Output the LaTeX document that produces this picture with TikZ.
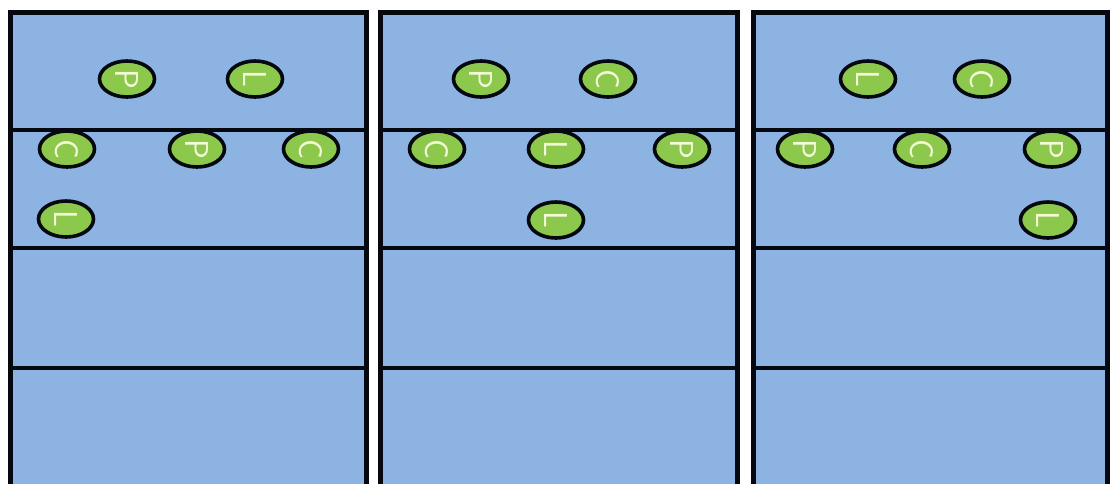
\documentclass[tikz,border=0pt]{standalone}
\usetikzlibrary{shapes.geometric}
\definecolor{paneblue}{HTML}{8DB3E2}
\definecolor{tokgreen}{HTML}{8CC84B}
\definecolor{tokletter}{HTML}{F4FAD6}
\definecolor{edgeblack}{HTML}{05080F}
\begin{document}
\begin{tikzpicture}[x=1pt,y=-1pt,
  panebox/.style={fill=paneblue,draw=edgeblack,line width=5pt},
  divider/.style={draw=edgeblack,line width=3.5pt},
  tok/.style={ellipse,draw=edgeblack,line width=3.6pt,fill=tokgreen,
    minimum width=55pt,minimum height=36pt,inner sep=0pt,
    text=tokletter,font=\sffamily\fontsize{33}{33}\selectfont}]
\useasboundingbox (0,0) rectangle (1111,483);
\clip (0,0) rectangle (1111,483);
\fill[white] (0,0) rectangle (1111,483);
% panels
\foreach \l/\r in {10/366, 380/737, 753/1107}{
  \path[panebox] (\l,12) rectangle (\r,520);
  \foreach \yy in {130,248,368}{
    \draw[divider] (\l,\yy) -- (\r,\yy);
  }
}
% panel 1
\node[tok] (a1) at (127,79) {\rotatebox{-90}{P}};
\node[tok] (a2) at (255,79) {\rotatebox{-90}{L}};
\node[tok] (a3) at (67,149) {\rotatebox{-90}{C}};
\node[tok] (a4) at (197,149) {\rotatebox{-90}{P}};
\node[tok] (a5) at (311,149) {\rotatebox{-90}{C}};
\node[tok] (a6) at (66,219) {\rotatebox{-90}{L}};
% panel 2
\node[tok] (b1) at (481,79) {\rotatebox{-90}{P}};
\node[tok] (b2) at (608,79) {\rotatebox{-90}{C}};
\node[tok] (b3) at (437,149) {\rotatebox{-90}{C}};
\node[tok] (b4) at (556,149) {\rotatebox{-90}{L}};
\node[tok] (b5) at (682,149) {\rotatebox{-90}{P}};
\node[tok] (b6) at (556,220) {\rotatebox{-90}{L}};
% panel 3
\node[tok] (c1) at (868,79) {\rotatebox{-90}{L}};
\node[tok] (c2) at (982,79) {\rotatebox{-90}{C}};
\node[tok] (c3) at (805,149) {\rotatebox{-90}{P}};
\node[tok] (c4) at (922,149) {\rotatebox{-90}{C}};
\node[tok] (c5) at (1052,149) {\rotatebox{-90}{P}};
\node[tok] (c6) at (1048,220) {\rotatebox{-90}{L}};
\end{tikzpicture}
\end{document}
